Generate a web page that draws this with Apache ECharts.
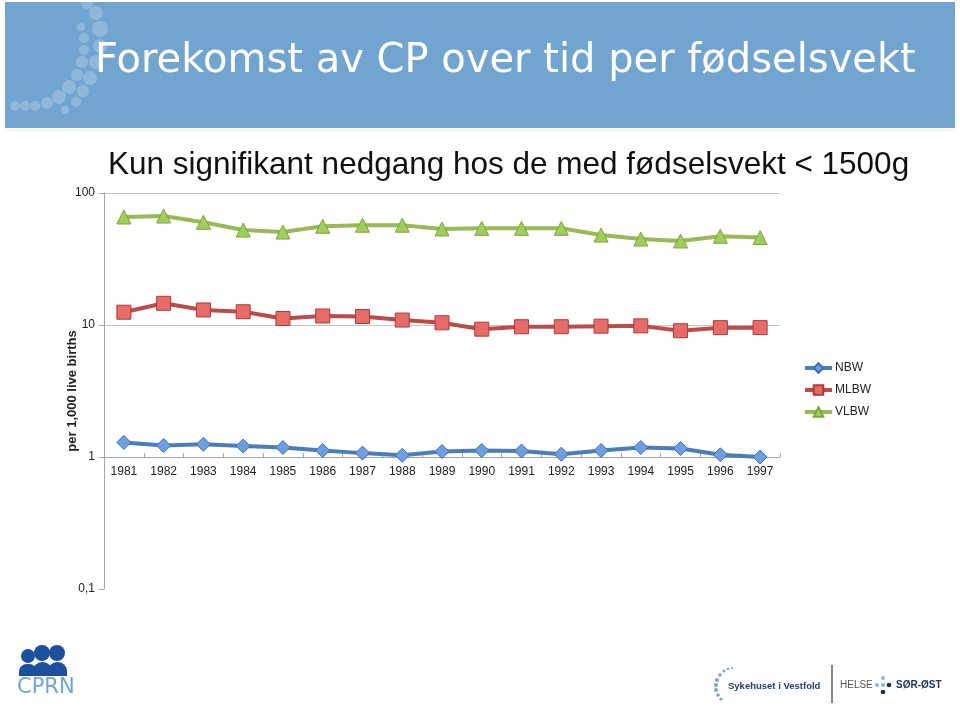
<!DOCTYPE html>
<html>
<head>
<meta charset="utf-8">
<script src="https://cdn.jsdelivr.net/npm/echarts@6/dist/echarts.min.js"></script>
<style>
html,body{margin:0;padding:0;background:#fff;}
#c{width:960px;height:706px;}
</style>
</head>
<body>
<div id="c"></div>
<script>
var years = ['1981','1982','1983','1984','1985','1986','1987','1988','1989','1990','1991','1992','1993','1994','1995','1996','1997'];
var nbw  = [1.29,1.22,1.25,1.21,1.18,1.12,1.07,1.03,1.10,1.12,1.11,1.05,1.12,1.18,1.16,1.04,1.0];
var mlbw = [12.5,14.6,13.0,12.6,11.2,11.7,11.6,10.9,10.4,9.3,9.7,9.7,9.8,9.85,9.05,9.55,9.55];
var vlbw = [65.8,66.9,60.0,52.4,50.6,56.0,57.0,57.0,53.4,54.0,54.0,54.0,48.0,44.8,43.3,47.0,46.0];
var seriesNames = ['NBW','MLBW','VLBW'];
var yTicks = [0.1, 1, 10, 100];

var chart = echarts.init(document.getElementById('c'), null, {renderer:'canvas'});

// decorative dots in header
var dots = [
  [87,3,6],[96,13,7],[100,29,8],[100,46,7],[96,62,7],[90,78,7],[83,91,6],[76,102,5],[65,110,4],
  [81,27,4],[84,38,5],[84,50,5],[82,62,6],[77,75,6],[69,87,7],[59,97,7],[47,103,6],[35,106,5],[25,106,5],[15,106,5]
];
var dotGraphics = dots.map(function(d){
  return {type:'circle', shape:{cx:d[0], cy:d[1], r:d[2]}, style:{fill:'rgba(255,255,255,0.22)'}, z:1};
});

// hospital logo dots
var sivDots = [[724,671,1.6],[720,675,1.8],[717,680,2],[716,685,2],[716,690,2],[718,695,1.8],[721,699,1.6],[728,669,1.3],[732,668,1.1]];
var sivGraphics = sivDots.map(function(d){
  return {type:'circle', shape:{cx:d[0], cy:d[1], r:d[2]}, style:{fill:'#7ba3cf'}};
});

var markerStyles = [
  {line:'#4a7ebb', fill:'#6d9fe0', border:'#3f6fae', symbol:'diamond', size:14},
  {line:'#be4b48', fill:'#e56c69', border:'#b03a37', symbol:'rect', size:14},
  {line:'#98b954', fill:'#9fce5c', border:'#7fa53c', symbol:'triangle', size:14}
];
var dataSets = [nbw, mlbw, vlbw];

var series = dataSets.map(function(d, i){
  var m = markerStyles[i];
  return {
    name: seriesNames[i], type:'line', data:d,
    symbol:m.symbol, symbolSize:m.size,
    lineStyle:{color:m.line, width:4},
    itemStyle:{color:m.fill, borderColor:m.border, borderWidth:1},
    emphasis:{disabled:true}, animation:false, z:3
  };
});

var option = {
  animation:false,
  backgroundColor:'#ffffff',
  grid:{left:104, right:180, top:193, bottom:117, containLabel:false},
  legend:{
    orient:'vertical', left:803, top:362, padding:0,
    itemWidth:27, itemHeight:12, itemGap:10, itemStyle:{},
    lineStyle:{width:4},
    textStyle:{fontSize:12, color:'#222', fontFamily:'Liberation Sans, Arial, sans-serif', padding:[0,0,0,-2]},
    data:seriesNames.map(function(n){return {name:n};})
  },
  xAxis:{
    type:'category', data:years, boundaryGap:true,
    offset:-132,
    axisLine:{show:true, lineStyle:{color:'#a6a6a6', width:1}},
    axisTick:{show:true, inside:true, length:4, lineStyle:{color:'#a6a6a6'}},
    axisLabel:{fontSize:12, color:'#222', margin:9, fontFamily:'Liberation Sans, Arial, sans-serif'},
    splitLine:{show:false}
  },
  yAxis:{
    type:'log', logBase:10, min:0.1, max:100,
    name:'per 1,000 live births', nameLocation:'middle', nameGap:25, nameMoveOverlap:false,
    nameTextStyle:{fontSize:13, fontWeight:'bold', color:'#222', fontFamily:'Liberation Sans, Arial, sans-serif'},
    axisLine:{show:true, lineStyle:{color:'#a6a6a6'}},
    axisTick:{show:true, length:5, lineStyle:{color:'#a6a6a6'}},
    axisLabel:{fontSize:12, color:'#222', margin:9, fontFamily:'Liberation Sans, Arial, sans-serif',
      formatter:function(v){
        var r = Math.round(v*1000)/1000;
        return String(r).replace('.', ',');
      }},
    splitLine:{show:true, showMinLine:false, lineStyle:{color:'#c4c4c4', width:1}}
  },
  series:series,
  graphic:[
    {type:'rect', shape:{x:5, y:2, width:950, height:126}, style:{fill:'#71a5d0'}, z:0},
    {type:'line', shape:{x1:5, y1:130, x2:955, y2:130}, style:{stroke:'#dfe9f3', lineWidth:1}, z:0}
  ].concat(dotGraphics).concat([
    {type:'text', left:95, top:42, z:5,
      style:{text:'Forekomst av CP over tid per fødselsvekt', fill:'#ffffff',
        font:'normal 40px "DejaVu Sans", Verdana, sans-serif'}},
    {type:'text', left:108, top:149, z:5,
      style:{text:'Kun signifikant nedgang hos de med fødselsvekt < 1500g', fill:'#111',
        font:'normal 31.5px "Liberation Sans", Arial, sans-serif'}},
    // CPRN logo
    {type:'circle', shape:{cx:28, cy:656, r:7}, style:{fill:'#1c4f9c'}},
    {type:'circle', shape:{cx:42, cy:653, r:8}, style:{fill:'#1c4f9c'}},
    {type:'circle', shape:{cx:57, cy:653, r:8}, style:{fill:'#1c4f9c'}},
    {type:'rect', shape:{x:19, y:664, width:18, height:12, r:[8,8,0,0]}, style:{fill:'#1c4f9c'}},
    {type:'rect', shape:{x:33, y:662, width:19, height:14, r:[9,9,0,0]}, style:{fill:'#1c4f9c'}},
    {type:'rect', shape:{x:48, y:662, width:19, height:14, r:[9,9,0,0]}, style:{fill:'#1c4f9c'}},
    {type:'text', left:17, top:677, style:{text:'CPRN', fill:'#6ea6dc', font:'normal 21px "DejaVu Sans", sans-serif'}},
    // Sykehuset i Vestfold
    {type:'text', left:728, top:681, style:{text:'Sykehuset i Vestfold', fill:'#1d3f73', font:'bold 9.5px "Liberation Sans", Arial, sans-serif'}},
    {type:'line', shape:{x1:832, y1:665, x2:832, y2:703}, style:{stroke:'#333', lineWidth:1.2}},
    {type:'text', left:840, top:680, style:{text:'HELSE', fill:'#555', font:'normal 10px "Liberation Sans", Arial, sans-serif'}},
    {type:'circle', shape:{cx:877, cy:685, r:2}, style:{fill:'#8fb4dc'}},
    {type:'circle', shape:{cx:883, cy:685, r:2}, style:{fill:'#8fb4dc'}},
    {type:'circle', shape:{cx:883, cy:678, r:2}, style:{fill:'#8fb4dc'}},
    {type:'circle', shape:{cx:883, cy:692, r:2.3}, style:{fill:'#1c2f5c'}},
    {type:'circle', shape:{cx:889, cy:685, r:2.3}, style:{fill:'#1c2f5c'}},
    {type:'text', left:896, top:680, style:{text:'SØR-ØST', fill:'#1c2f5c', font:'bold 10px "Liberation Sans", Arial, sans-serif'}}
  ]).concat(sivGraphics)
};
chart.setOption(option);
</script>
</body>
</html>
